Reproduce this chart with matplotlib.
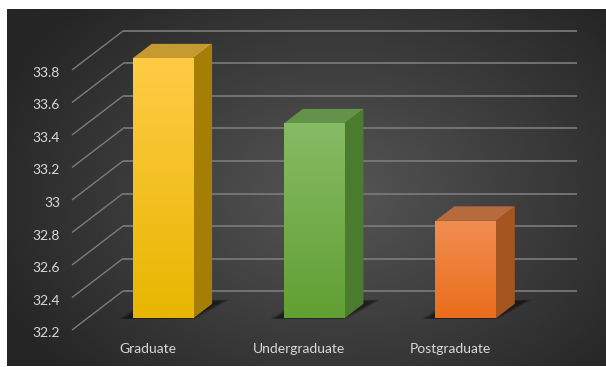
import numpy as np
import matplotlib
matplotlib.use("Agg")
import matplotlib.pyplot as plt
from matplotlib.patches import Polygon
import matplotlib.colors as mcolors

plt.rcParams['font.family'] = ['Lato', 'DejaVu Sans']

# ---- data ----
categories = ["Graduate", "Undergraduate", "Postgraduate"]
values = [33.8, 33.4, 32.8]
y_ticks = [32.2, 32.4, 32.6, 32.8, 33.0, 33.2, 33.4, 33.6, 33.8]
y_tick_labels = ["32.2", "32.4", "32.6", "32.8", "33", "33.2", "33.4", "33.6", "33.8"]

# ---- styles ----
front_top = ["#FFCB45", "#86BB64", "#F28D52"]
front_bot = ["#E8B600", "#61A033", "#EA6E1A"]
side_cols = ["#A67E05", "#4A7B2E", "#A5561F"]
top_cols = ["#C79A30", "#64924A", "#B86A3F"]
text_col = "#D9D9D9"
grid_col = "#7C7C7C"

W_PX, H_PX = 606, 367
fig = plt.figure(figsize=(W_PX / 100, H_PX / 100), dpi=100, facecolor="white")

# layout (pixels, top-origin)
PANEL_L, PANEL_R, PANEL_T, PANEL_B = 7, 606, 9, 366
WALL_L, WALL_R = 123, 577
Y_LO_PX, Y_HI_PX = 291, 31
YMIN, YMAX = y_ticks[0], y_ticks[-1]
ncat = len(categories)

pxu_x = (WALL_R - WALL_L) / ncat
pxu_y = (Y_LO_PX - Y_HI_PX) / (YMAX - YMIN)

ax = fig.add_axes([PANEL_L / W_PX, (H_PX - PANEL_B) / H_PX,
                   (PANEL_R - PANEL_L) / W_PX, (PANEL_B - PANEL_T) / H_PX])
xlim = ((PANEL_L - WALL_L) / pxu_x, (PANEL_R - WALL_L) / pxu_x)
ylim = (YMIN - (PANEL_B - Y_LO_PX) / pxu_y, YMIN + (Y_LO_PX - PANEL_T) / pxu_y)
ax.set_xlim(*xlim)
ax.set_ylim(*ylim)
ax.axis("off")

# background radial gradient
gx = np.linspace(0, 1, 300)
gy = np.linspace(0, 1, 200)
GX, GY = np.meshgrid(gx, gy)
r = np.sqrt(((GX - 0.55) / 0.62) ** 2 + ((GY - 0.52) / 0.75) ** 2)
r = np.clip(r, 0, 1)
c_in = np.array(mcolors.to_rgb("#565656"))
c_out = np.array(mcolors.to_rgb("#252525"))
img = c_in[None, None, :] * (1 - r[..., None]) + c_out[None, None, :] * r[..., None]
ax.imshow(img, extent=[xlim[0], xlim[1], ylim[0], ylim[1]], origin="upper",
          aspect="auto", zorder=0, interpolation="bilinear")
ax.set_xlim(*xlim)
ax.set_ylim(*ylim)

# depth (full floor depth) in data units
DX = -51 / pxu_x
DY = -39 / pxu_y

# back wall gridlines and diagonals
ax.hlines(y_ticks, 0, ncat, colors=grid_col, linewidth=1.2, zorder=1)
for v in y_ticks:
    ax.plot([0, DX], [v, v + DY], color=grid_col, linewidth=1.0, zorder=1,
            solid_capstyle="butt")

# y tick labels at the front
for v, lab in zip(y_ticks, y_tick_labels):
    ax.annotate(lab, xy=(DX, v + DY), xytext=(-12, -3), textcoords="offset pixels",
                ha="right", va="center", color=text_col, fontsize=10, zorder=5)

# bars
BW = 0.40
fF, fB = 0.70, 0.33
centers = np.arange(ncat) + 0.5


def off(x, y, f):
    return (x + DX * f, y + DY * f)


for i, (c, v) in enumerate(zip(centers, values)):
    x0, x1 = c - BW / 2, c + BW / 2
    # shadow on floor
    for k, a in enumerate([0.15, 0.2, 0.3]):
        e = 0.04 - k * 0.015
        sh = Polygon([off(x0 - 0.05 - e, YMIN, 0.71), off(x1 - 0.02 + e, YMIN, 0.71),
                      off(x1 + 0.04 + e, YMIN, 0.26 - e), off(x0 - 0.01 - e, YMIN, 0.26 - e)],
                     closed=True, facecolor="black", edgecolor="none", alpha=a, zorder=2)
        ax.add_patch(sh)
    # side face
    side = Polygon([off(x1, YMIN, fF), off(x1, YMIN, fB), off(x1, v, fB), off(x1, v, fF)],
                   closed=True, facecolor=side_cols[i], edgecolor="none", zorder=3)
    ax.add_patch(side)
    # top face
    top = Polygon([off(x0, v, fF), off(x1, v, fF), off(x1, v, fB), off(x0, v, fB)],
                  closed=True, facecolor=top_cols[i], edgecolor="none", zorder=3)
    ax.add_patch(top)
    # front face
    bars = ax.bar(c + DX * fF, v - YMIN, bottom=YMIN + DY * fF, width=BW,
                  color=front_bot[i], edgecolor="none", zorder=4)
    rect = bars.patches[0]
    cmap = mcolors.LinearSegmentedColormap.from_list(
        "g%d" % i, [front_bot[i], front_top[i]])
    grad = np.linspace(0, 1, 100).reshape(-1, 1)
    bx0 = x0 + DX * fF
    im = ax.imshow(grad, extent=[bx0, bx0 + BW, YMIN + DY * fF, v + DY * fF],
                   origin="lower", aspect="auto", cmap=cmap, zorder=4.5,
                   interpolation="bilinear")
    im.set_clip_path(rect)
    ax.set_xlim(*xlim)
    ax.set_ylim(*ylim)

# category labels at front floor edge
for c, lab in zip(centers, categories):
    ax.annotate(lab, xy=(c + DX, YMIN + DY), xytext=(0, -19), textcoords="offset pixels",
                ha="center", va="center", color=text_col, fontsize=10, zorder=5)

fig.savefig("out.png", dpi=100, facecolor="white")
